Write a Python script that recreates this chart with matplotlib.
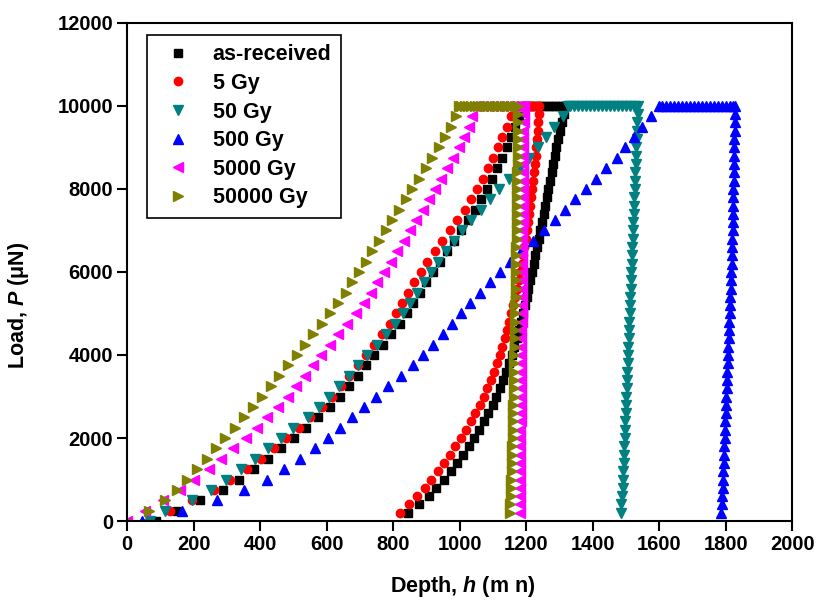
import matplotlib
matplotlib.use('Agg')
import matplotlib.pyplot as plt

# Fonts: Arial-like bold everywhere

plt.rcParams['font.family'] = 'Liberation Sans'
plt.rcParams['font.weight'] = 'bold'
plt.rcParams['axes.labelweight'] = 'bold'
plt.rcParams['mathtext.fontset'] = 'custom'
plt.rcParams['mathtext.it'] = 'Liberation Sans:italic:bold'
plt.rcParams['mathtext.rm'] = 'Liberation Sans:bold'

# Load levels (uN)

LOAD_UP = [0, 250, 500, 750, 1000, 1250, 1500, 1750, 2000, 2250,
           2500, 2750, 3000, 3250, 3500, 3750, 4000, 4250, 4500, 4750,
           5000, 5250, 5500, 5750, 6000, 6250, 6500, 6750, 7000, 7250,
           7500, 7750, 8000, 8250, 8500, 8750, 9000, 9250, 9500, 9750, 10000]
LOAD_HOLD = 10000
LOAD_DOWN = [10000, 9800, 9600, 9400, 9200, 9000, 8800, 8600, 8400, 8200,
             8000, 7800, 7600, 7400, 7200, 7000, 6800, 6600, 6400, 6200,
             6000, 5800, 5600, 5400, 5200, 5000, 4800, 4600, 4400, 4200,
             4000, 3800, 3600, 3400, 3200, 3000, 2800, 2600, 2400, 2200,
             2000, 1800, 1600, 1400, 1200, 1000, 800, 600, 400, 200]

# Depths (nm) for each sample: loading, hold, unloading

asrec_up = [88, 151, 220, 290, 336, 383, 425, 463, 501, 538,
            574, 609, 640, 667, 693, 719, 744, 770, 795, 821,
            841, 861, 880, 900, 921, 942, 963, 984, 1005, 1026,
            1046, 1064, 1081, 1097, 1112, 1127, 1141, 1154, 1167, 1178, 1188]
asrec_hold = [1198, 1208, 1218, 1228, 1238, 1248, 1258, 1268, 1278, 1288, 1298, 1308]
asrec_down = [1318, 1313, 1308, 1302, 1297, 1291, 1287, 1282, 1278, 1272,
              1267, 1262, 1258, 1253, 1249, 1243, 1238, 1233, 1228, 1224,
              1218, 1213, 1207, 1202, 1196, 1190, 1184, 1177, 1171, 1164,
              1156, 1148, 1139, 1130, 1121, 1110, 1099, 1086, 1072, 1058,
              1043, 1027, 1009, 992, 973, 953, 930, 907, 878, 844]

gy5_up = [65, 130, 195, 262, 310, 360, 403, 441, 479, 516,
          550, 587, 617, 643, 668, 693, 717, 742, 766, 790,
          808, 826, 844, 863, 883, 903, 925, 947, 970, 993,
          1015, 1035, 1053, 1069, 1084, 1099, 1114, 1128, 1142, 1153, 1163]
gy5_hold = [1172, 1182, 1192, 1202, 1212, 1222, 1232]
gy5_down = [1240, 1239, 1237, 1235, 1233, 1231, 1229, 1227, 1225, 1222,
            1219, 1216, 1213, 1210, 1207, 1203, 1199, 1195, 1191, 1187,
            1182, 1177, 1172, 1167, 1161, 1155, 1149, 1142, 1135, 1128,
            1120, 1111, 1102, 1093, 1083, 1072, 1060, 1047, 1033, 1018,
            1003, 987, 970, 953, 935, 915, 895, 873, 848, 820]

gy50_up = [70, 115, 196, 252, 298, 343, 384, 425, 462, 500,
           544, 576, 607, 637, 668, 695, 723, 751, 779, 806,
           831, 851, 872, 893, 913, 936, 960, 984, 1008, 1035,
           1063, 1091, 1118, 1148, 1180, 1210, 1236, 1261, 1285, 1310, 1325]
gy50_hold = [1333, 1345, 1357, 1369, 1381, 1393, 1405, 1417, 1429,
             1441, 1453, 1465, 1477, 1489, 1501, 1513, 1525]
gy50_down = [1536, 1535, 1534, 1533, 1532, 1531, 1530, 1529, 1528, 1527,
             1526, 1525, 1524, 1523, 1522, 1521, 1520, 1519, 1518, 1517,
             1516, 1515, 1514, 1513, 1512, 1511, 1510, 1509, 1508, 1507,
             1506, 1505, 1504, 1503, 1502, 1501, 1500, 1499, 1498, 1497,
             1496, 1495, 1494, 1493, 1492, 1491, 1490, 1488, 1486, 1484]

gy500_up = [45, 165, 272, 352, 420, 473, 521, 565, 603, 641,
            676, 712, 748, 785, 823, 859, 890, 921, 951, 977,
            1003, 1032, 1061, 1091, 1120, 1150, 1185, 1220, 1255, 1287,
            1318, 1348, 1380, 1410, 1441, 1472, 1498, 1524, 1548, 1575, 1600]
gy500_hold = [1608, 1620, 1632, 1644, 1656, 1668, 1680, 1692, 1704, 1716,
              1728, 1740, 1752, 1764, 1776, 1788, 1800, 1812, 1822]
gy500_down = [1828, 1828, 1827, 1827, 1826, 1826, 1825, 1825, 1824, 1824,
              1823, 1823, 1822, 1822, 1821, 1821, 1820, 1820, 1819, 1818,
              1817, 1816, 1815, 1814, 1813, 1812, 1811, 1810, 1809, 1808,
              1807, 1806, 1805, 1804, 1803, 1802, 1801, 1800, 1799, 1798,
              1797, 1796, 1795, 1794, 1793, 1792, 1791, 1790, 1788, 1786]

gy5000_up = [0, 55, 107, 160, 202, 245, 282, 320, 358, 390,
             422, 453, 484, 509, 534, 559, 584, 609, 635, 661,
             687, 712, 733, 753, 773, 793, 813, 832, 851, 870,
             889, 908, 926, 945, 963, 980, 998, 1014, 1028, 1038, 1046]
gy5000_hold = [1055, 1070, 1085, 1100, 1115, 1130, 1145, 1160, 1175, 1185]
gy5000_down = [1192, 1192, 1192, 1191, 1191, 1191, 1191, 1190, 1190, 1190,
               1190, 1189, 1189, 1189, 1189, 1188, 1188, 1188, 1188, 1187,
               1187, 1187, 1187, 1186, 1186, 1186, 1186, 1185, 1185, 1185,
               1185, 1184, 1184, 1184, 1184, 1183, 1183, 1183, 1183, 1182,
               1182, 1182, 1182, 1181, 1181, 1181, 1181, 1180, 1180, 1180]

gy50000_up = [0, 65, 114, 151, 181, 211, 241, 269, 296, 324,
              352, 380, 406, 432, 458, 484, 510, 535, 560, 585,
              610, 635, 657, 677, 697, 717, 738, 758, 778, 798,
              818, 838, 858, 879, 899, 918, 938, 957, 975, 988, 998]
gy50000_hold = [1005, 1015, 1025, 1035, 1045, 1055, 1065, 1075, 1085,
                1095, 1105, 1115, 1125, 1135, 1145, 1155, 1165]
gy50000_down = [1176, 1176, 1175, 1175, 1175, 1174, 1174, 1174, 1173, 1173,
                1173, 1172, 1172, 1172, 1171, 1171, 1171, 1170, 1170, 1170,
                1169, 1169, 1168, 1168, 1167, 1167, 1166, 1166, 1165, 1165,
                1164, 1164, 1163, 1163, 1162, 1162, 1161, 1161, 1160, 1160,
                1159, 1158, 1158, 1157, 1156, 1155, 1154, 1153, 1152, 1150]

labels = ['as-received', '5 Gy', '50 Gy', '500 Gy', '5000 Gy', '50000 Gy']
colors = ['#000000', '#ff0000', '#008080', '#0000ff', '#ff00ff', '#808000']
markers = ['s', 'o', 'v', '^', '<', '>']
sizes = [5.5, 6, 7, 7, 7, 7]

curves = [(asrec_up, asrec_hold, asrec_down),
          (gy5_up, gy5_hold, gy5_down),
          (gy50_up, gy50_hold, gy50_down),
          (gy500_up, gy500_hold, gy500_down),
          (gy5000_up, gy5000_hold, gy5000_down),
          (gy50000_up, gy50000_hold, gy50000_down)]

fig = plt.figure(figsize=(8.21, 6.01), dpi=100)
ax = fig.add_axes([0.1547, 0.133, 0.8103, 0.829])

for (up, hold, down), lab, c, m, s in zip(curves, labels, colors, markers, sizes):
    depth = up + hold + down
    load = LOAD_UP + [LOAD_HOLD] * len(hold) + LOAD_DOWN
    ax.plot(depth, load, ls='none', marker=m, ms=s, color=c, mec=c, label=lab)

ax.set_xlim(0, 2000)
ax.set_ylim(0, 12000)
ax.set_xticks(range(0, 2001, 200))
ax.set_yticks(range(0, 12001, 2000))
ax.tick_params(direction='out', length=7, width=1.5, labelsize=14.5, pad=3)
for sp in ax.spines.values():
    sp.set_linewidth(1.5)

ax.set_xlabel('Depth, $h$ (m n)', fontsize=15.5, fontweight='bold')
ax.set_ylabel('Load, $P$ (μN)', fontsize=15.5, fontweight='bold')
ax.xaxis.set_label_coords(0.504, -0.106)
ax.yaxis.set_label_coords(-0.145, 0.434)

leg = ax.legend(loc='upper left', bbox_to_anchor=(0.03, 0.976), borderaxespad=0,
                fancybox=False, edgecolor='black', framealpha=1, numpoints=1,
                fontsize=15.5, handlelength=2.0, handletextpad=0.6,
                borderpad=0.45, labelspacing=0.35)
leg.get_frame().set_linewidth(1.2)

fig.savefig('out.png', dpi=100)
